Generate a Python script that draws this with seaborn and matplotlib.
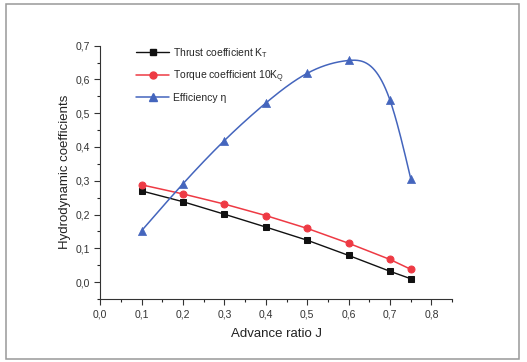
import numpy as np
import pandas as pd
import matplotlib
matplotlib.use("Agg")
import matplotlib.pyplot as plt
from matplotlib.lines import Line2D
from matplotlib.patches import Rectangle
from matplotlib.ticker import MultipleLocator, FuncFormatter
import seaborn as sns

# ---- data ----
J = [0.1, 0.2, 0.3, 0.4, 0.5, 0.6, 0.7, 0.75]
KT = [0.270, 0.238, 0.201, 0.163, 0.124, 0.079, 0.032, 0.010]
KQ10 = [0.288, 0.261, 0.231, 0.197, 0.159, 0.115, 0.067, 0.038]
ETA = [0.152, 0.291, 0.419, 0.530, 0.618, 0.656, 0.538, 0.306]
labels = ["Thrust coefficient K$_{\\mathregular{T}}$",
          "Torque coefficient 10K$_{\\mathregular{Q}}$",
          "Efficiency \u03b7"]

sns.set_theme(style="white")
plt.rcParams["font.family"] = ["Liberation Sans", "DejaVu Sans"]
plt.rcParams["mathtext.fontset"] = "custom"
plt.rcParams["mathtext.rm"] = "Liberation Sans"
plt.rcParams["mathtext.it"] = "Liberation Sans"


def natural_spline(x, y, n=300):
    x = np.asarray(x, float); y = np.asarray(y, float)
    m = len(x); h = np.diff(x)
    A = np.zeros((m, m)); b = np.zeros(m)
    A[0, 0] = A[-1, -1] = 1
    for i in range(1, m - 1):
        A[i, i - 1] = h[i - 1]; A[i, i] = 2 * (h[i - 1] + h[i]); A[i, i + 1] = h[i]
        b[i] = 3 * ((y[i + 1] - y[i]) / h[i] - (y[i] - y[i - 1]) / h[i - 1])
    c = np.linalg.solve(A, b)
    xs = np.linspace(x[0], x[-1], n); ys = np.empty_like(xs)
    for k, xv in enumerate(xs):
        i = min(np.searchsorted(x, xv, side="right") - 1, m - 2)
        dx = xv - x[i]
        bi = (y[i + 1] - y[i]) / h[i] - h[i] * (2 * c[i] + c[i + 1]) / 3
        di = (c[i + 1] - c[i]) / (3 * h[i])
        ys[k] = y[i] + bi * dx + c[i] * dx ** 2 + di * dx ** 3
    return xs, ys


fig = plt.figure(figsize=(5.27, 3.62), dpi=100)
fig.patches.append(Rectangle((0.012, 0.008), 0.972, 0.98, transform=fig.transFigure,
                             fill=False, edgecolor="#999999", linewidth=1.1))
ax = fig.add_axes([0.19, 0.174, 0.668, 0.70])

black, red, blue = "#111111", "#ee3a44", "#4465bd"
df = pd.DataFrame({"J": J, "KT": KT, "KQ": KQ10, "ETA": ETA})
sns.lineplot(data=df, x="J", y="KT", ax=ax, color=black, marker="s", markersize=5,
             markeredgecolor=black, linewidth=1)
sns.lineplot(data=df, x="J", y="KQ", ax=ax, color=red, marker="o", markersize=5,
             markeredgecolor=red, linewidth=1.1)
xs, ys = natural_spline(J, ETA)
ax.plot(xs, ys, color=blue, linewidth=1.1)
sns.scatterplot(data=df, x="J", y="ETA", ax=ax, color=blue, marker="^", s=34,
                edgecolor=blue, linewidth=0.5, zorder=3)

handles = [Line2D([], [], color=black, marker="s", markersize=5, linewidth=1),
           Line2D([], [], color=red, marker="o", markersize=5, linewidth=1.1),
           Line2D([], [], color=blue, marker="^", markersize=6, linewidth=1.1)]
ax.legend(handles, labels, loc="upper left", bbox_to_anchor=(0.075, 1.035), frameon=False,
          fontsize=7.5, handlelength=3.2, labelspacing=0.8, handletextpad=0.4)

ax.set_xlim(0, 0.85)
ax.set_ylim(-0.05, 0.7)
ax.xaxis.set_major_locator(MultipleLocator(0.1))
ax.xaxis.set_minor_locator(MultipleLocator(0.05))
ax.yaxis.set_major_locator(MultipleLocator(0.1))
ax.yaxis.set_minor_locator(MultipleLocator(0.05))
fmt = FuncFormatter(lambda v, p: f"{v:.1f}".replace(".", ",").replace("-0,0", "0,0"))
ax.xaxis.set_major_formatter(fmt)
ax.yaxis.set_major_formatter(fmt)
ax.tick_params(axis="both", which="major", direction="out", length=4, width=0.8,
               labelsize=7.5, colors="#333333", bottom=True, left=True)
ax.tick_params(axis="both", which="minor", direction="out", length=2.5, width=0.8,
               bottom=True, left=True)
for s in ["top", "right"]:
    ax.spines[s].set_visible(False)
for s in ["left", "bottom"]:
    ax.spines[s].set_color("#333333")
    ax.spines[s].set_linewidth(0.8)
ax.set_xlabel("Advance ratio J", fontsize=9.5, color="#222222", labelpad=6)
ax.set_ylabel("Hydrodynamic coefficients", fontsize=9.5, color="#222222", labelpad=3)

fig.savefig("out.png", dpi=100)
